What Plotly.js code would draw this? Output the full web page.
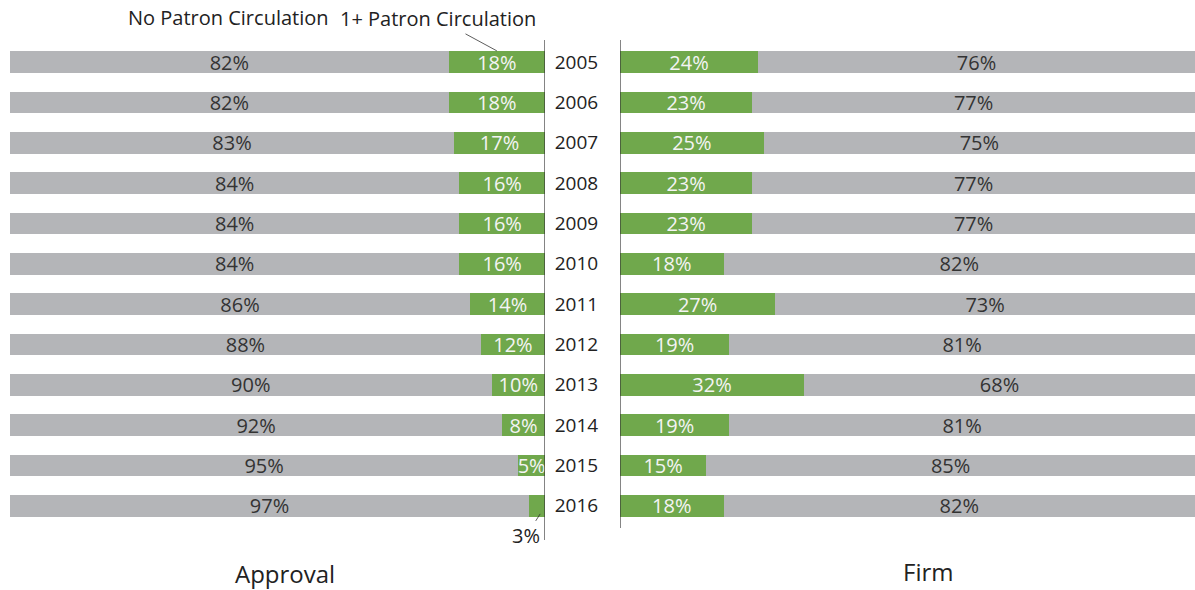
<!DOCTYPE html>
<html><head><meta charset="utf-8">
<script src="https://cdn.plot.ly/plotly-3.0.1.min.js"></script>
<style>html,body{margin:0;padding:0;background:#fff}</style>
</head><body><div id="chart" style="width:1195px;height:590px"></div>
<script>
const years = ['2005','2006','2007','2008','2009','2010','2011','2012','2013','2014','2015','2016'];
const approvalPatron = [18,18,17,16,16,16,14,12,10,8,5,3];
const approvalNone   = [82,82,83,84,84,84,86,88,90,92,95,97];
const firmPatron = [24,23,25,23,23,18,27,19,32,19,15,18];
const firmNone   = [76,77,75,77,77,82,73,81,68,81,85,82];

const GREEN = '#70a84c', GRAY = '#b4b5b8';
const FONT = 'Open Sans, sans-serif';
const pct = v => v + '%';
const lastIdx = years.length - 1;
const yRange = [years.length - 0.5, -0.5];

// plot area in pixels (for converting label positions to paper coords)
const T = 42, B = 526;
const py = px => (B - px) / (B - T);

const traces = [
  {type:'bar', orientation:'h', x:approvalPatron, y:years, xaxis:'x', yaxis:'y',
   marker:{color:GREEN}, text:approvalPatron.map((v,i)=> i===lastIdx ? '' : pct(v)),
   textposition:'inside', insidetextanchor:'middle', constraintext:'none',
   textfont:{color:'#f4f4f4', size:20, family:FONT}, hoverinfo:'none'},
  {type:'bar', orientation:'h', x:approvalNone, y:years, xaxis:'x', yaxis:'y',
   marker:{color:GRAY}, text:approvalNone.map(pct),
   textposition:'inside', insidetextanchor:'middle', constraintext:'none',
   textfont:{color:'#333', size:20, family:FONT}, hoverinfo:'none'},
  {type:'bar', orientation:'h', x:firmPatron, y:years, xaxis:'x2', yaxis:'y2',
   marker:{color:GREEN}, text:firmPatron.map(pct),
   textposition:'inside', insidetextanchor:'middle', constraintext:'none',
   textfont:{color:'#f4f4f4', size:20, family:FONT}, hoverinfo:'none'},
  {type:'bar', orientation:'h', x:firmNone, y:years, xaxis:'x2', yaxis:'y2',
   marker:{color:GRAY}, text:firmNone.map(pct),
   textposition:'inside', insidetextanchor:'middle', constraintext:'none',
   textfont:{color:'#333', size:20, family:FONT}, hoverinfo:'none'}
];

const layout = {
  width:1195, height:590,
  margin:{l:0, r:0, t:T, b:590-B},
  paper_bgcolor:'#fff', plot_bgcolor:'#fff',
  showlegend:false, barmode:'stack', bargap:0.455,
  font:{family:FONT, color:'#222'},
  uniformtext:{mode:'show', minsize:20},
  xaxis:{domain:[10/1195, 545/1195], range:[100,0], visible:false, fixedrange:true},
  xaxis2:{domain:[620/1195, 1], range:[0,100], visible:false, fixedrange:true},
  yaxis:{anchor:'x', type:'category', range:yRange, autorange:false, showticklabels:false,
         showgrid:false, zeroline:false, ticks:''},
  yaxis2:{anchor:'x2', type:'category', range:yRange, autorange:false, showgrid:false, zeroline:false,
          side:'left', tickmode:'array', tickvals:years, ticktext:years,
          ticks:'outside', ticklen:17, tickcolor:'rgba(0,0,0,0)',
          tickfont:{size:19, color:'#222', family:FONT}},
  shapes:[
    {type:'line', xref:'x', x0:0, x1:0, yref:'paper', y0:py(540), y1:py(40), line:{color:'#333', width:1.2}},
    {type:'line', xref:'x2', x0:0, x1:0, yref:'paper', y0:py(528), y1:py(40), line:{color:'#333', width:1.2}}
  ],
  annotations:[
    {xref:'paper', yref:'paper', x:228/1195, y:py(18), yanchor:'middle', xanchor:'center',
     text:'No Patron Circulation', showarrow:false, font:{size:20, color:'#222'}},
    {xref:'x', yref:'y', x:approvalPatron[0]/2, y:-0.28, text:'1+ Patron Circulation',
     showarrow:true, arrowhead:0, arrowwidth:0.8, arrowcolor:'#333', ax:-59, ay:-32,
     font:{size:20, color:'#222'}},
    {xref:'x', yref:'y', x:approvalPatron[lastIdx]*0.3, y:lastIdx+0.2, text:pct(approvalPatron[lastIdx]),
     showarrow:true, arrowhead:0, arrowwidth:0.8, arrowcolor:'#333', ax:-14, ay:22,
     font:{size:20, color:'#222'}},
    {xref:'paper', yref:'paper', x:285/1195, y:py(573), yanchor:'middle', xanchor:'center',
     text:'Approval', showarrow:false, font:{size:24, color:'#222'}},
    {xref:'paper', yref:'paper', x:928/1195, y:py(571), yanchor:'middle', xanchor:'center',
     text:'Firm', showarrow:false, font:{size:24, color:'#222'}}
  ]
};
Plotly.newPlot('chart', traces, layout, {displayModeBar:false, staticPlot:true});
</script></body></html>
